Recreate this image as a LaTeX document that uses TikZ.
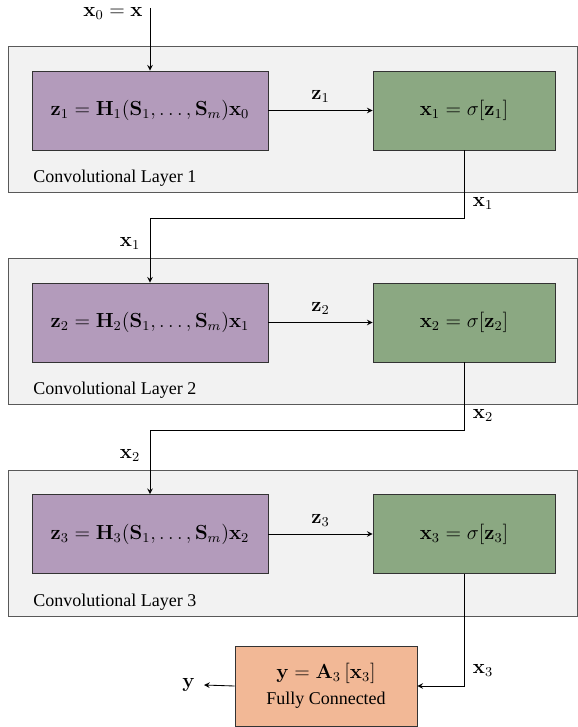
\documentclass[tikz,border=0pt]{standalone}
\usepackage[no-math]{fontspec}
\setmainfont{Liberation Serif}
\usetikzlibrary{positioning}

\definecolor{capagris}{HTML}{F2F2F2}
\definecolor{filtro}{HTML}{B39BBB}
\definecolor{activ}{HTML}{8BA882}
\definecolor{salida}{HTML}{F2B896}

\begin{document}
\begin{tikzpicture}[x=0.0207cm, y=-0.0207cm, >=stealth, line width=0.5pt,
    every node/.style={font=\fontsize{12}{14}\selectfont},
    texto/.style={font=\fontsize{10.6}{12.5}\selectfont},
    capa/.style={draw=black!65, fill=capagris, minimum width=11.78cm, minimum height=3.02cm, inner sep=0pt},
    filtrobox/.style={draw=black!80, fill=filtro, minimum width=4.885cm, minimum height=1.635cm, inner sep=0pt},
    activbox/.style={draw=black!80, fill=activ, minimum width=3.767cm, minimum height=1.635cm, inner sep=0pt},
    capalbl/.style={texto, anchor=west, inner sep=0pt}]
    \useasboundingbox (0,0) rectangle (578,727);

    % Capas convolucionales (fondos grises)
    \node[capa] (capa1) at (292.5,119) {};
    \node[capa] (capa2) at (292.5,331) {};
    \node[capa] (capa3) at (292.5,543) {};
    \node[capalbl] (lbl1) at (33,178) {Convolutional Layer 1};
    \node[capalbl] (lbl2) at (33,390) {Convolutional Layer 2};
    \node[capalbl] (lbl3) at (33,602) {Convolutional Layer 3};

    % Filtros de grafo
    \node[filtrobox] (h1) at (150,110.5) {$\mathbf{z}_1 = \mathbf{H}_1(\mathbf{S}_1,\ldots,\mathbf{S}_m)\mathbf{x}_0$};
    \node[filtrobox] (h2) at (150,322.5) {$\mathbf{z}_2 = \mathbf{H}_2(\mathbf{S}_1,\ldots,\mathbf{S}_m)\mathbf{x}_1$};
    \node[filtrobox] (h3) at (150,534) {$\mathbf{z}_3 = \mathbf{H}_3(\mathbf{S}_1,\ldots,\mathbf{S}_m)\mathbf{x}_2$};

    % No linealidades
    \node[activbox] (s1) at (464,110.5) {$\mathbf{x}_1 = \sigma[\mathbf{z}_1]$};
    \node[activbox] (s2) at (464,322.5) {$\mathbf{x}_2 = \sigma[\mathbf{z}_2]$};
    \node[activbox] (s3) at (464,534) {$\mathbf{x}_3 = \sigma[\mathbf{z}_3]$};

    % Capa totalmente conectada
    \node[texto, draw=black!80, fill=salida, minimum width=3.767cm, minimum height=1.656cm, inner sep=0pt, align=center] (fc) at (326,686)
        {\fontsize{12}{14}\selectfont$\mathbf{y} = \mathbf{A}_3\,[\mathbf{x}_3]$\\[3pt] Fully Connected};

    % Entrada
    \coordinate (ent) at (150,8);
    \node[anchor=base east, inner sep=0pt] (entlbl) at (143,16) {$\mathbf{x}_0 = \mathbf{x}$};
    \draw[->] (ent) -- (h1.north);

    % Filtro -> no linealidad
    \draw[->] (h1.east) -- node[above=1pt] {$\mathbf{z}_1$} (s1.west);
    \draw[->] (h2.east) -- node[above=1pt] {$\mathbf{z}_2$} (s2.west);
    \draw[->] (h3.east) -- node[above=1pt] {$\mathbf{z}_3$} (s3.west);

    % Entre capas
    \coordinate (c1) at (464,218);
    \coordinate (c2) at (464,430);
    \draw[->] (s1.south) -- (c1) -| (h2.north);
    \draw[->] (s2.south) -- (c2) -| (h3.north);
    \node (x1a) at (483,203) {$\mathbf{x}_1$};
    \node (x1b) at (130,243) {$\mathbf{x}_1$};
    \node (x2a) at (483,415) {$\mathbf{x}_2$};
    \node (x2b) at (130,455) {$\mathbf{x}_2$};

    % Salida
    \draw[->] (s3.south) |- (fc.east);
    \node (x3a) at (483,670) {$\mathbf{x}_3$};
    \coordinate (sal) at (204,685);
    \draw[->] (fc.west) -- (sal);
    \node[anchor=east, inner sep=1pt] (ylbl) at (197,685) {$\mathbf{y}$};
\end{tikzpicture}
\end{document}
